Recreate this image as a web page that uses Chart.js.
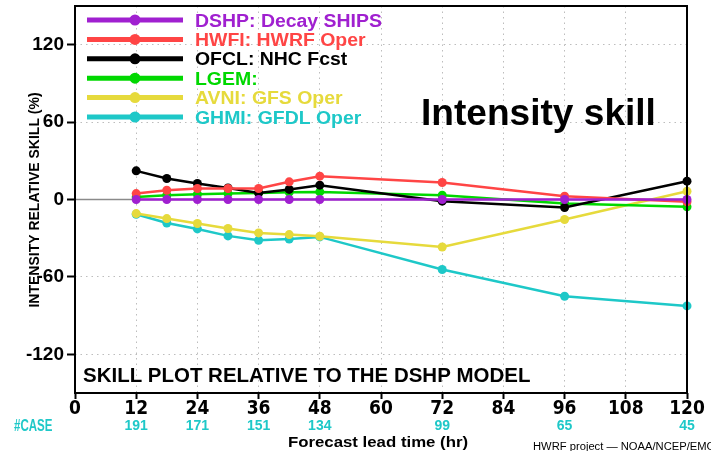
<!DOCTYPE html>
<html>
<head>
<meta charset="utf-8">
<script src="https://cdn.jsdelivr.net/npm/chart.js@4.4.0/dist/chart.umd.min.js"></script>
<style>
html, body { margin: 0; padding: 0; background: #fff; }
</style>
</head>
<body>
<canvas id="skill" width="711" height="451"></canvas>
<script>
// forecast hours and skill (%) relative to DSHP
var hours = [12, 18, 24, 30, 36, 42, 48, 72, 96, 120];
var dshp = [0, 0, 0, 0, 0, 0, 0, 0, 0, 0];
var hwfi = [4.6, 7.2, 8.5, 8.5, 8.5, 13.7, 18.1, 13.2, 2.6, -1.8];
var ofcl = [22.2, 16.3, 12.4, 9.0, 5.1, 7.8, 11.1, -1.3, -6.2, 14.2];
var lgem = [2.0, 3.3, 4.1, 4.6, 5.1, 5.7, 5.9, 3.3, -3.1, -5.7];
var avni = [-10.9, -14.8, -18.6, -22.5, -25.9, -27.2, -28.5, -36.8, -15.5, 6.4];
var ghmi = [-11.4, -18.2, -22.8, -28.2, -31.6, -30.6, -29.0, -54.3, -75.0, -82.5];

var names = ['DSHP: Decay SHIPS', 'HWFI: HWRF Oper', 'OFCL: NHC Fcst', 'LGEM:', 'AVNI: GFS Oper', 'GHMI: GFDL Oper'];
var colors = ['#a020d0', '#ff4545', '#000000', '#00d800', '#e6da3c', '#1ec8c8'];

var caseHours = [12, 24, 36, 48, 72, 96, 120];
var caseCounts = [191, 171, 151, 134, 99, 65, 45];

var xTicks = [0, 12, 24, 36, 48, 60, 72, 84, 96, 108, 120];
var yTicks = [-120, -60, 0, 60, 120];

function pts(vals) {
  return vals.map(function (v, i) { return { x: hours[i], y: v }; });
}

var series = [dshp, hwfi, ofcl, lgem, avni, ghmi];
var datasets = series.map(function (vals, i) {
  return {
    label: names[i],
    data: pts(vals),
    borderColor: colors[i],
    backgroundColor: colors[i],
    borderWidth: 2.5,
    pointRadius: 4.5,
    pointBorderWidth: 0,
    pointBackgroundColor: colors[i],
    clip: false
  };
});

function put(ctx, txt, x, y, font, color, align, sx) {
  ctx.save();
  ctx.font = font;
  ctx.fillStyle = color;
  ctx.textAlign = 'left';
  ctx.textBaseline = 'alphabetic';
  sx = sx || 1;
  var w = ctx.measureText(txt).width * sx;
  var dx = align === 'center' ? -w / 2 : (align === 'right' ? -w : 0);
  ctx.translate(x + dx, y);
  ctx.scale(sx, 1);
  ctx.fillText(txt, 0, 0);
  ctx.restore();
}

var extras = {
  id: 'extras',
  beforeDatasetsDraw: function (chart) {
    var ctx = chart.ctx, a = chart.chartArea;
    var y0 = chart.scales.y.getPixelForValue(0);
    ctx.save();
    ctx.strokeStyle = '#8a8a8a';
    ctx.lineWidth = 1.5;
    ctx.beginPath();
    ctx.moveTo(a.left, y0);
    ctx.lineTo(a.right, y0);
    ctx.stroke();
    ctx.restore();
  },
  afterDatasetsDraw: function (chart) {
    var ctx = chart.ctx, a = chart.chartArea;
    var xs = chart.scales.x;

    // frame
    ctx.save();
    ctx.strokeStyle = '#000';
    ctx.lineWidth = 2;
    ctx.strokeRect(a.left, a.top, a.right - a.left, a.bottom - a.top);
    ctx.restore();

    // legend
    names.forEach(function (n, i) {
      var y = 20 + i * 19.4;
      ctx.save();
      ctx.strokeStyle = colors[i];
      ctx.lineWidth = 5;
      ctx.beginPath();
      ctx.moveTo(87, y);
      ctx.lineTo(183, y);
      ctx.stroke();
      ctx.fillStyle = colors[i];
      ctx.beginPath();
      ctx.arc(135, y, 5.5, 0, Math.PI * 2);
      ctx.fill();
      ctx.restore();
      put(ctx, n, 195, y + 6.5, 'bold 18px "Liberation Sans"', colors[i], 'left', 1.08);
    });

    put(ctx, 'Intensity skill', 421, 125, 'bold 36px "Liberation Sans"', '#000', 'left', 1.03);
    put(ctx, 'SKILL PLOT RELATIVE TO THE DSHP MODEL', 83, 382, 'bold 21px "Liberation Sans"', '#000', 'left', 0.975);

    // case counts
    put(ctx, '#CASE', 14, 431, 'bold 16px "Liberation Sans"', colors[5], 'left', 0.72);
    caseHours.forEach(function (h, i) {
      put(ctx, String(caseCounts[i]), xs.getPixelForValue(h), 430, 'bold 14px "Liberation Sans"', colors[5], 'center');
    });

    put(ctx, 'Forecast lead time (hr)', 378, 447, 'bold 15px "Liberation Sans"', '#000', 'center', 1.12);
    put(ctx, 'HWRF project \u2014 NOAA/NCEP/EMC', 533, 450, '10px "Liberation Sans"', '#000', 'left', 1.12);

    // y axis title
    ctx.save();
    ctx.translate(39, 200);
    ctx.rotate(-Math.PI / 2);
    put(ctx, 'INTENSITY RELATIVE SKILL (%)', 0, 0, 'bold 14px "Liberation Sans"', '#000', 'center', 1.0);
    ctx.restore();
  }
};

new Chart(document.getElementById('skill'), {
  type: 'line',
  data: { datasets: datasets },
  options: {
    responsive: false,
    animation: false,
    layout: { padding: { top: 6, right: 24, left: 0, bottom: 0 } },
    plugins: { legend: { display: false }, tooltip: { enabled: false } },
    scales: {
      x: {
        type: 'linear',
        min: 0,
        max: 120,
        afterBuildTicks: function (s) { s.ticks = xTicks.map(function (v) { return { value: v }; }); },
        afterFit: function (s) { s.height = 58; s.paddingLeft = 0; s.paddingRight = 0; },
        ticks: {
          color: '#000',
          padding: 0,
          maxRotation: 0,
          autoSkip: false,
          font: { family: '"DejaVu Sans Condensed", "DejaVu Sans", sans-serif', size: 19, weight: 'bold', lineHeight: 1.1 },
          callback: function (v) { return String(v); }
        },
        grid: {
          color: '#bdbdbd',
          lineWidth: 1,
          tickLength: 6,
          tickColor: '#000',
          tickWidth: 2,
          tickBorderDash: []
        },
        border: { display: false, dash: [1.5, 4] }
      },
      y: {
        type: 'linear',
        min: -150,
        max: 150,
        afterBuildTicks: function (s) { s.ticks = yTicks.map(function (v) { return { value: v }; }); },
        afterFit: function (s) { s.width = 75; s.paddingTop = 0; s.paddingBottom = 0; },
        ticks: {
          color: '#000',
          padding: 3,
          autoSkip: false,
          font: { family: '"Liberation Sans", sans-serif', size: 19, weight: 'bold' },
          callback: function (v) { return String(v); }
        },
        grid: {
          color: '#bdbdbd',
          lineWidth: 1,
          tickLength: 8,
          tickColor: '#000',
          tickWidth: 2,
          tickBorderDash: []
        },
        border: { display: false, dash: [1.5, 4] }
      }
    }
  },
  plugins: [extras]
});
</script>
</body>
</html>
